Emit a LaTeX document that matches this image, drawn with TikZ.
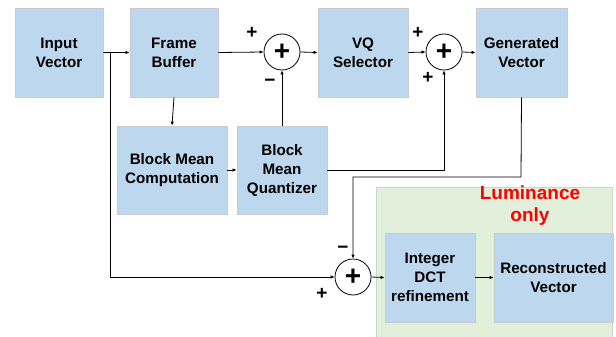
\documentclass[tikz,border=0pt]{standalone}
\usepackage{fontspec}
\setmainfont{Liberation Sans}
\usetikzlibrary{arrows.meta}
\definecolor{boxblue}{HTML}{BDD7EE}
\definecolor{boxedge}{HTML}{C8CCD0}
\definecolor{bggreen}{HTML}{E2EFDA}
\definecolor{bgedge}{HTML}{CCD6C6}
\begin{document}
\begin{tikzpicture}[x=1pt,y=-1pt,
  blk/.style={draw=boxedge,line width=0.8pt,fill=boxblue,minimum width=88pt,minimum height=89pt,
    align=center,font=\fontsize{15.2}{19}\selectfont\bfseries,inner sep=2pt},
  summ/.style={circle,draw=black,line width=0.8pt,fill=white,minimum size=36pt,inner sep=0pt,
    font=\fontsize{28}{28}\selectfont\bfseries},
  sgn/.style={font=\fontsize{19}{19}\selectfont\bfseries,inner sep=0pt},
  con/.style={line width=0.8pt,-{Latex[length=4pt,width=3.5pt]}},
  ln/.style={line width=0.8pt}]
\useasboundingbox (0,0) rectangle (616,337);
\fill[white] (0,0) rectangle (616,337);
\node[draw=bgedge,fill=bggreen,line width=0.8pt,minimum width=236pt,minimum height=151pt,anchor=north west,inner sep=0pt] (bg) at (376,187) {};
\node[font=\fontsize{19}{22}\selectfont\bfseries,text=red,align=center,inner sep=0pt] (lum) at (530,206) {Luminance\\only};
\node[blk] (in) at (59,52.5) {Input\\Vector};
\node[blk] (fb) at (174,52.5) {Frame\\Buffer};
\node[blk,minimum width=90pt] (vq) at (363,52.5) {VQ\\Selector};
\node[blk,minimum width=91pt] (gv) at (521.5,52.5) {Generated\\Vector};
\node[blk,minimum width=110pt,minimum height=88pt] (bmc) at (172,170) {Block Mean\\Computation};
\node[blk,minimum width=90pt,minimum height=88pt] (bmq) at (282,170) {Block\\Mean\\Quantizer};
\node[blk,minimum width=90pt] (dct) at (430,277.5) {Integer\\DCT\\refinement};
\node[blk,minimum width=119pt] (rv) at (553.5,277.5) {Reconstructed\\Vector};
\node[summ] (s1) at (282,52) {+};
\node[summ] (s2) at (444,52) {+};
\node[summ] (s3) at (353,277) {+};
\coordinate (br) at (110,52);
\coordinate (bl) at (110,277);
\coordinate (g1) at (521,177);
\coordinate (g2) at (353,177);
\coordinate (q1) at (444,170);
\draw[con] (in.east) -- (fb.west);
\draw[con] (br) -- (bl) -- (s3.west);
\draw[con] (fb.east) -- (s1.west);
\draw[con] (s1.east) -- (vq.west);
\draw[con] (vq.east) -- (s2.west);
\draw[con] (s2.east) -- (gv.west);
\draw[con] (fb.south) -- (bmc.north);
\draw[con] (bmc.east) -- (bmq.west);
\draw[con] (bmq.north) -- (s1.south);
\draw[con] (bmq.east) -- (q1) -- (s2.south);
\draw[con] (gv.south) -- (g1) -- (g2) -- (s3.north);
\draw[con] (s3.east) -- (dct.west);
\draw[con] (dct.east) -- (rv.west);
\node[sgn] (p1) at (252,33) {+};
\node[sgn] (m1) at (270,83) {\char"2212};
\node[sgn] (p2) at (418,33) {+};
\node[sgn] (p3) at (428,78) {+};
\node[sgn] (m3) at (343,250) {\char"2212};
\node[sgn] (p4) at (322,294) {+};
\end{tikzpicture}
\end{document}
